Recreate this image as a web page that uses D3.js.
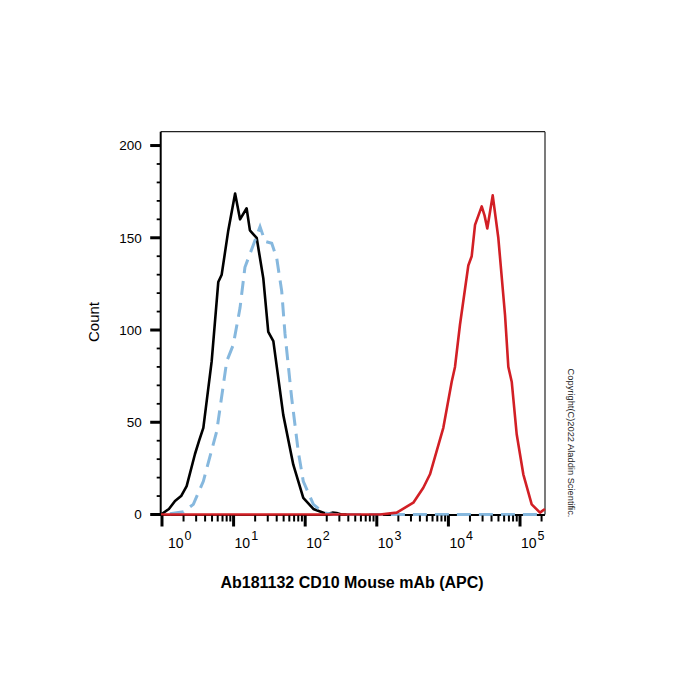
<!DOCTYPE html>
<html>
<head>
<meta charset="utf-8">
<script src="https://cdn.jsdelivr.net/npm/d3@7/dist/d3.min.js"></script>
<style>
  html, body { margin: 0; padding: 0; background: #ffffff; }
  svg { display: block; font-family: "Liberation Sans", Arial, sans-serif; }
</style>
</head>
<body>
<svg id="chart" width="700" height="700"></svg>
<script>
// ---- data ----
const isotypeX = [0.97, 1.25, 1.52, 1.85, 2.21, 2.89, 3.3, 3.78, 4.94, 6.11, 6.82, 8.43, 10.5, 12.3, 15.2, 16.9, 18.8, 21.0, 26.0, 30.5, 35.9, 49.4, 68.2, 94.0, 130, 200, 240, 275, 320, 380];
const isotypeY = [0, 3, 7.3, 10, 15.4, 32.8, 40, 47, 83, 126, 130, 154, 174, 160, 166, 154, 152, 150, 128, 99, 94, 54, 27, 9, 3, 0.3, 1, 0.8, 0, 0];

const unstainedX = [1.29, 2.0, 2.74, 3.78, 5.81, 8.01, 9.9, 12.3, 14.4, 18.8, 23.4, 27.5, 34.1, 40.0, 47.0, 52.2, 64.8, 80.1, 94.0, 130, 179, 250, 1000, 10000, 100000, 223000];
const unstainedY = [0.4, 1.5, 5.5, 18, 45, 83, 92, 112, 134, 146, 156, 148, 147, 139, 121, 98, 63, 34, 18, 5.5, 1, 0, 0, 0, 0, 0];

const cd10X = [0.97, 10, 100, 1109, 1897, 3236, 4460, 5530, 8490, 11120, 12360, 14520, 18970, 21150, 23540, 29190, 32000, 34920, 41560, 49770, 61800, 68700, 76600, 89900, 111200, 145600, 190200, 223000];
const cd10Y = [0, 0, 0, 0, 1, 6.4, 14.5, 21.8, 47, 72, 80, 103, 135, 140, 157, 167, 162, 155, 173, 150, 108, 80, 72, 43.5, 21.8, 5.5, 1, 3];

const yTicks = [0, 50, 100, 150, 200];
const xDecades = [0, 1, 2, 3, 4, 5];
const xTitle = "Ab181132 CD10 Mouse mAb (APC)";
const yTitle = "Count";
const copyright = "Copyright(C)2022 Aladdin Scientific.";

// ---- layout ----
const svg = d3.select("#chart");
const pL = 160.7, pR = 545, pT = 131.7, pB = 514.5;

const x = d3.scaleLog()
  .domain([Math.pow(10, -0.018), Math.pow(10, 5.349)])
  .range([pL, pR]);
const y = d3.scaleLinear()
  .domain([0, 207.5])
  .range([pB, pT]);

// frame (top/right thin)
svg.append("line").attr("x1", pL).attr("x2", pR).attr("y1", pT).attr("y2", pT)
  .attr("stroke", "#222").attr("stroke-width", 1.2);
svg.append("line").attr("x1", pR).attr("x2", pR).attr("y1", pT).attr("y2", pB)
  .attr("stroke", "#222").attr("stroke-width", 1.2);

// axis lines (under curves)
svg.append("line").attr("x1", pL).attr("x2", pL).attr("y1", pT).attr("y2", pB + 1)
  .attr("stroke", "#000").attr("stroke-width", 2);
svg.append("line").attr("x1", pL - 1).attr("x2", pR).attr("y1", pB + 0.5).attr("y2", pB + 0.5)
  .attr("stroke", "#000").attr("stroke-width", 2);

// curves
const line = d3.line().x(d => x(d[0])).y(d => y(d[1]));
const g = svg.append("g");
g.append("path")
  .datum(isotypeX.map((v, i) => [v, isotypeY[i]]))
  .attr("d", line).attr("fill", "none")
  .attr("stroke", "#000").attr("stroke-width", 2.6).attr("stroke-linejoin", "round");
g.append("path")
  .datum(unstainedX.map((v, i) => [v, unstainedY[i]]))
  .attr("d", line).attr("fill", "none")
  .attr("stroke", "#86b8de").attr("stroke-width", 3).attr("stroke-dasharray", "14,8");
g.append("path")
  .datum(cd10X.map((v, i) => [v, cd10Y[i]]))
  .attr("d", line).attr("fill", "none")
  .attr("stroke", "#d21f25").attr("stroke-width", 2.6).attr("stroke-linejoin", "round");

// y ticks
const yMinor = d3.range(0, 201, 10).filter(v => v % 50 !== 0);
svg.selectAll(".ymin").data(yMinor).enter().append("line")
  .attr("x1", pL - 4).attr("x2", pL).attr("y1", d => y(d)).attr("y2", d => y(d))
  .attr("stroke", "#000").attr("stroke-width", 1.8);
svg.selectAll(".ymaj").data(yTicks).enter().append("line")
  .attr("x1", pL - 10.5).attr("x2", pL).attr("y1", d => y(d)).attr("y2", d => y(d))
  .attr("stroke", "#000").attr("stroke-width", 3);
svg.selectAll(".ylab").data(yTicks).enter().append("text")
  .attr("x", pL - 19).attr("y", d => y(d)).attr("dy", "0.36em")
  .attr("text-anchor", "end").attr("font-size", 13.5).attr("fill", "#000")
  .text(d => d);

// x ticks
const xMinor = [];
xDecades.forEach(dec => { for (let m = 2; m <= 9; m++) { const v = m * Math.pow(10, dec); if (x(v) < pR) xMinor.push(v); } });
svg.selectAll(".xmin").data(xMinor).enter().append("line")
  .attr("x1", d => x(d)).attr("x2", d => x(d)).attr("y1", pB + 1).attr("y2", pB + 7)
  .attr("stroke", "#000").attr("stroke-width", 2);
svg.selectAll(".xmaj").data(xDecades).enter().append("line")
  .attr("x1", d => x(Math.pow(10, d))).attr("x2", d => x(Math.pow(10, d)))
  .attr("y1", pB + 1).attr("y2", pB + 12)
  .attr("stroke", "#000").attr("stroke-width", 3);
const xl = svg.selectAll(".xlab").data(xDecades).enter().append("text")
  .attr("x", d => x(Math.pow(10, d)) + (d === 0 ? 6 : 1))
  .attr("y", 547.5).attr("text-anchor", "start").attr("font-size", 14).attr("fill", "#000");
xl.append("tspan").text("10");
xl.append("tspan").attr("dy", -8).attr("dx", 1).attr("font-size", 12.5).text(d => d);

// titles
svg.append("text").attr("x", 352).attr("y", 588).attr("text-anchor", "middle")
  .attr("font-size", 16).attr("font-weight", "bold").attr("fill", "#000").text(xTitle);
svg.append("text").attr("transform", "translate(99,322) rotate(-90)")
  .attr("text-anchor", "middle").attr("font-size", 15).attr("fill", "#000").text(yTitle);
svg.append("text").attr("transform", "translate(568,443) rotate(90)")
  .attr("text-anchor", "middle").attr("font-size", 9.3).attr("fill", "#222").text(copyright);
</script>
</body>
</html>
